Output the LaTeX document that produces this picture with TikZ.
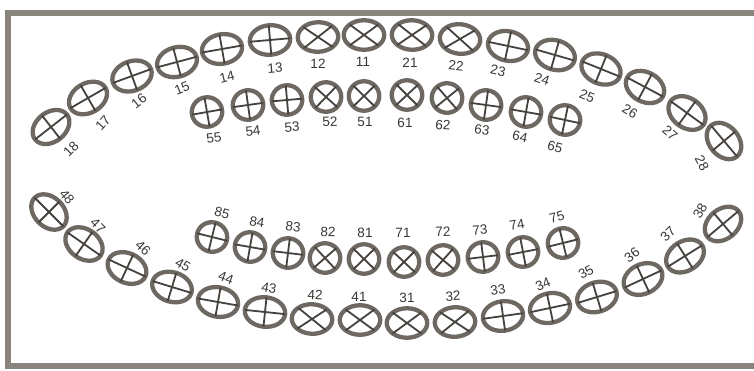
\documentclass[tikz,border=0pt]{standalone}
\usepackage{fontspec}
\setmainfont{Liberation Sans}
\usetikzlibrary{shapes.geometric}
\definecolor{rim}{HTML}{6E6862}
\definecolor{crossc}{HTML}{45413D}
\definecolor{framec}{HTML}{8A847F}
\definecolor{numc}{HTML}{3A3633}
\tikzset{
  perm/.style={ellipse, draw=rim, line width=4.3pt, minimum width=40.5pt, minimum height=29.5pt, inner sep=0pt, outer sep=0pt},
  prim/.style={ellipse, draw=rim, line width=4.3pt, minimum width=30.5pt, minimum height=29.5pt, inner sep=0pt, outer sep=0pt},
  crossline/.style={draw=crossc, line width=1.8pt},
  num/.style={font=\fontsize{13.5}{13.5}\selectfont, text=numc, inner sep=0pt},
  framel/.style={draw=framec, line width=5.5pt},
}
\begin{document}
\begin{tikzpicture}[x=1pt,y=-1pt]
\useasboundingbox (0,0) rectangle (754,370);
\coordinate (fa) at (754,13);
\coordinate (fb) at (8,13);
\coordinate (fc) at (8,366);
\coordinate (fd) at (754,366);
\draw[framel] (fa) -- (fb) -- (fc) -- (fd);
% permanent teeth: number / x / y / angle / type / label x / label y / label angle
\foreach \n/\x/\y/\a/\tp/\lx/\ly/\la in {
  18/51/127/38/p/71/149/45, 17/88/98/30/p/103/123/48, 16/132/76/20/p/139/101/38,
  15/177/62/15/p/182/88/22, 14/222/49/10/p/227/77/14, 13/270/40/5/p/275/68/4,
  12/318/37/2/x/318/64/0, 11/364/35/0/x/363/62/0, 21/412/35/-2/x/410/63/0,
  22/460/39/-6/x/456/66/-6, 23/508/46/-12/p/498/71/-12, 24/555/55/-16/p/542/79/-18,
  25/601/69/-22/p/587/96/-22, 26/645/87/-28/p/630/111/-30, 27/687/113/-36/p/670/133/-42,
  28/724/141/-50/p/702/163/-62,
  48/49/212/-45/p/67/197/-50, 47/84/244/-35/p/98/226/-45, 46/127/268/-25/p/143/248/-42,
  45/172/287/-17/p/183/265/-30, 44/218/302/-10/p/226/278/-20, 43/265/312/-6/p/269/288/-10,
  42/312/319/-3/x/315/295/-3, 41/360/320/0/x/359/297/0, 31/407/323/0/x/407/298/0,
  32/455/322/3/x/453/296/3, 33/503/316/8/p/498/290/8, 34/550/308/12/p/543/284/22,
  35/597/297/17/p/586/272/28, 36/643/279/25/p/632/255/38, 37/685/256/32/p/668/234/45,
  38/723/224/40/p/700/211/60}
{
  \node[perm, rotate=\a] (t\n) at (\x,\y) {};
  \if\tp p
    \draw[crossline] (t\n.north) -- (t\n.south) (t\n.east) -- (t\n.west);
  \else
    \draw[crossline] (t\n.north east) -- (t\n.south west) (t\n.north west) -- (t\n.south east);
  \fi
  \node[num, rotate=\la] (l\n) at (\lx,\ly) {\n};
}
% primary teeth
\foreach \n/\x/\y/\a/\tp/\lx/\ly/\la in {
  55/207/112/10/p/214/138/8, 54/248/105/8/p/253/131/6, 53/287/100/5/p/292/127/4,
  52/326/97/2/x/330/122/2, 51/364/96/0/x/365/122/0, 61/407/95/-1/x/405/123/0,
  62/447/98/-5/x/443/125/-4, 63/486/105/-8/p/482/130/-8, 64/526/112/-10/p/520/137/-12,
  65/565/120/-12/p/555/147/-15,
  85/212/237/-14/p/222/213/-15, 84/250/247/-10/p/257/222/-10, 83/288/253/-7/p/293/227/-6,
  82/325/258/-3/x/328/232/-2, 81/364/259/0/x/365/233/0, 71/404/262/1/x/403/233/0,
  72/443/260/4/x/443/232/2, 73/483/257/7/p/480/230/5, 74/523/252/11/p/517/225/10,
  75/563/243/14/p/557/217/15}
{
  \node[prim, rotate=\a] (t\n) at (\x,\y) {};
  \if\tp p
    \draw[crossline] (t\n.north) -- (t\n.south) (t\n.east) -- (t\n.west);
  \else
    \draw[crossline] (t\n.north east) -- (t\n.south west) (t\n.north west) -- (t\n.south east);
  \fi
  \node[num, rotate=\la] (l\n) at (\lx,\ly) {\n};
}
\end{tikzpicture}
\end{document}
